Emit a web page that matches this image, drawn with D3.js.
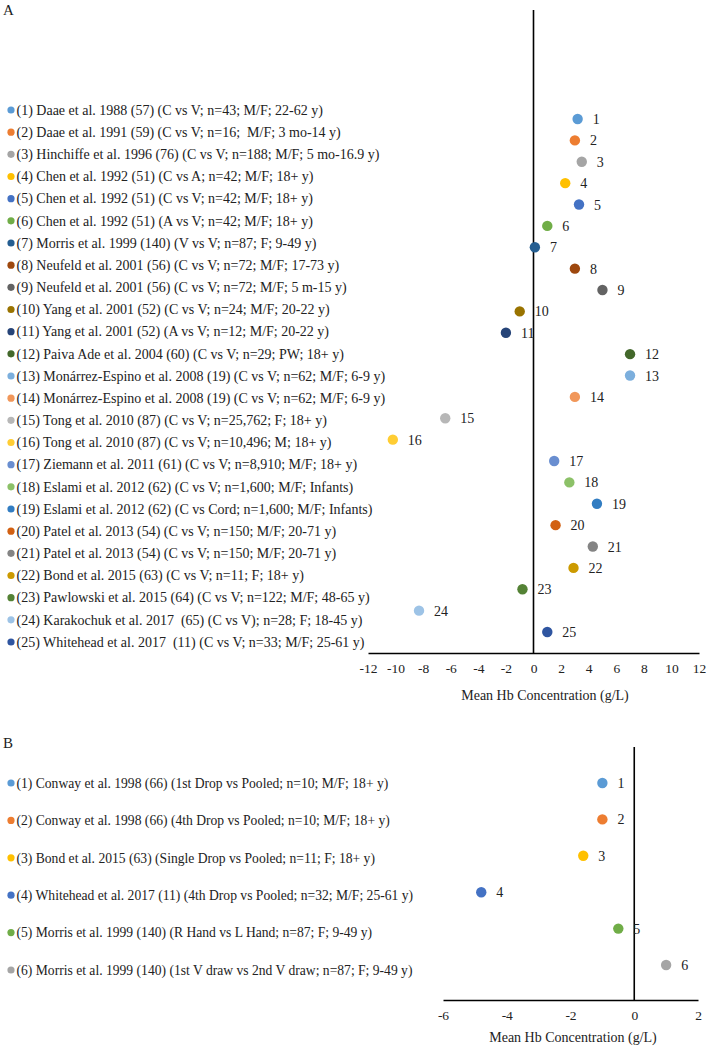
<!DOCTYPE html>
<html><head><meta charset="utf-8">
<script src="https://cdn.jsdelivr.net/npm/d3@7"></script>
<style>
body{margin:0;background:#fff;}
svg text{font-family:"Liberation Serif","Times New Roman",serif;fill:#222;white-space:pre;}
</style></head>
<body><svg id="c" width="708" height="1050"></svg>
<script>
const studiesA = [
"(1) Daae et al. 1988 (57) (C vs V; n=43; M/F; 22-62 y)",
"(2) Daae et al. 1991 (59) (C vs V; n=16;  M/F; 3 mo-14 y)",
"(3) Hinchiffe et al. 1996 (76) (C vs V; n=188; M/F; 5 mo-16.9 y)",
"(4) Chen et al. 1992 (51) (C vs A; n=42; M/F; 18+ y)",
"(5) Chen et al. 1992 (51) (C vs V; n=42; M/F; 18+ y)",
"(6) Chen et al. 1992 (51) (A vs V; n=42; M/F; 18+ y)",
"(7) Morris et al. 1999 (140) (V vs V; n=87; F; 9-49 y)",
"(8) Neufeld et al. 2001 (56) (C vs V; n=72; M/F; 17-73 y)",
"(9) Neufeld et al. 2001 (56) (C vs V; n=72; M/F; 5 m-15 y)",
"(10) Yang et al. 2001 (52) (C vs V; n=24; M/F; 20-22 y)",
"(11) Yang et al. 2001 (52) (A vs V; n=12; M/F; 20-22 y)",
"(12) Paiva Ade et al. 2004 (60) (C vs V; n=29; PW; 18+ y)",
"(13) Monárrez-Espino et al. 2008 (19) (C vs V; n=62; M/F; 6-9 y)",
"(14) Monárrez-Espino et al. 2008 (19) (C vs V; n=62; M/F; 6-9 y)",
"(15) Tong et al. 2010 (87) (C vs V; n=25,762; F; 18+ y)",
"(16) Tong et al. 2010 (87) (C vs V; n=10,496; M; 18+ y)",
"(17) Ziemann et al. 2011 (61) (C vs V; n=8,910; M/F; 18+ y)",
"(18) Eslami et al. 2012 (62) (C vs V; n=1,600; M/F; Infants)",
"(19) Eslami et al. 2012 (62) (C vs Cord; n=1,600; M/F; Infants)",
"(20) Patel et al. 2013 (54) (C vs V; n=150; M/F; 20-71 y)",
"(21) Patel et al. 2013 (54) (C vs V; n=150; M/F; 20-71 y)",
"(22) Bond et al. 2015 (63) (C vs V; n=11; F; 18+ y)",
"(23) Pawlowski et al. 2015 (64) (C vs V; n=122; M/F; 48-65 y)",
"(24) Karakochuk et al. 2017  (65) (C vs V); n=28; F; 18-45 y)",
"(25) Whitehead et al. 2017  (11) (C vs V; n=33; M/F; 25-61 y)"
];
const valuesA = [3.2, 3.0, 3.5, 2.3, 3.3, 1.0, 0.1, 3.0, 5.0, -1.0, -2.0, 7.0, 7.0, 3.0, -6.4, -10.2, 1.5, 2.6, 4.6, 1.6, 4.3, 2.9, -0.8, -8.3, 1.0];
const colorsA = ["#5B9BD5","#ED7D31","#A5A5A5","#FFC000","#4472C4","#70AD47","#255E91","#9E480E","#636363","#997300","#264478","#43682B","#7CAFDD","#F1975A","#B7B7B7","#FFCD33","#698ED0","#8CC168","#327DC2","#D26012","#848484","#CC9A00","#548235","#9DC3E6","#2F55A0"];
const ticksA = [-12,-10,-8,-6,-4,-2,0,2,4,6,8,10,12];

const studiesB = [
"(1) Conway et al. 1998 (66) (1st Drop vs Pooled; n=10; M/F; 18+ y)",
"(2) Conway et al. 1998 (66) (4th Drop vs Pooled; n=10; M/F; 18+ y)",
"(3) Bond et al. 2015 (63) (Single Drop vs Pooled; n=11; F; 18+ y)",
"(4) Whitehead et al. 2017 (11) (4th Drop vs Pooled; n=32; M/F; 25-61 y)",
"(5) Morris et al. 1999 (140) (R Hand vs L Hand; n=87; F; 9-49 y)",
"(6) Morris et al. 1999 (140) (1st V draw vs 2nd V draw; n=87; F; 9-49 y)"
];
const valuesB = [-1.0, -1.0, -1.6, -4.8, -0.5, 1.0];
const colorsB = ["#5B9BD5","#ED7D31","#FFC000","#4472C4","#70AD47","#A5A5A5"];
const ticksB = [-6,-4,-2,0,2];
const axisTitle = "Mean Hb Concentration (g/L)";

const svg = d3.select("#c");

function panel(cfg){
  const g = svg.append("g");
  const x = d3.scaleLinear().domain(cfg.domain).range(cfg.xr);
  const n = cfg.labels.length;
  const yP = d3.scaleLinear().domain([0,n-1]).range(cfg.pyr);
  const yL = d3.scaleLinear().domain([0,n-1]).range(cfg.lyr);

  g.append("text").attr("x",cfg.letterX).attr("y",cfg.letterY).attr("font-size",15).text(cfg.letter);

  // legend
  const lg = g.selectAll("g.leg").data(cfg.labels).join("g").attr("class","leg")
    .attr("transform",(d,i)=>`translate(0,${yL(i)})`);
  lg.append("circle").attr("cx",11).attr("cy",0).attr("r",3.6).attr("fill",(d,i)=>cfg.colors[i]);
  lg.append("text").attr("x",16.5).attr("y",4.8).attr("font-size",cfg.fs).text(d=>d);

  // axis
  const ax = g.append("g").attr("transform",`translate(0,${cfg.axisY})`)
    .call(d3.axisBottom(x).tickValues(cfg.ticks).tickFormat(d=>String(d)).tickSize(0).tickPadding(10).tickSizeOuter(0));
  ax.select(".domain").attr("stroke","#000").attr("stroke-width",1.6);
  ax.selectAll(".tick text").attr("font-family","Liberation Serif, serif").attr("font-size",13.5).attr("fill","#222");
  g.append("line").attr("x1",x(0)).attr("x2",x(0)).attr("y1",cfg.vTop).attr("y2",cfg.axisY)
    .attr("stroke","#000").attr("stroke-width",1.6);
  g.append("text").attr("x",cfg.titleX).attr("y",cfg.titleY).attr("text-anchor","middle")
    .attr("font-size",14).text(axisTitle);

  // points
  const pts = g.selectAll("g.pt").data(cfg.values).join("g").attr("class","pt");
  pts.append("circle").attr("cx",d=>x(d)).attr("cy",(d,i)=>yP(i)).attr("r",5.2)
    .attr("fill",(d,i)=>cfg.colors[i]);
  pts.append("text").attr("x",d=>x(d)+15).attr("y",(d,i)=>yP(i)+5).attr("font-size",14)
    .text((d,i)=>String(i+1));
}

panel({letter:"A",letterX:3,letterY:15,labels:studiesA,values:valuesA,colors:colorsA,ticks:ticksA,
  domain:[-12,12],xr:[368,699],pyr:[119,632],lyr:[110,642],axisY:653,vTop:10,
  titleX:545,titleY:700,fs:14});
panel({letter:"B",letterX:3,letterY:748,labels:studiesB,values:valuesB,colors:colorsB,ticks:ticksB,
  domain:[-6,2],xr:[443,698],pyr:[783,965],lyr:[783,970],axisY:1000,vTop:747,
  titleX:573,titleY:1042,fs:13.6});
</script></body></html>
